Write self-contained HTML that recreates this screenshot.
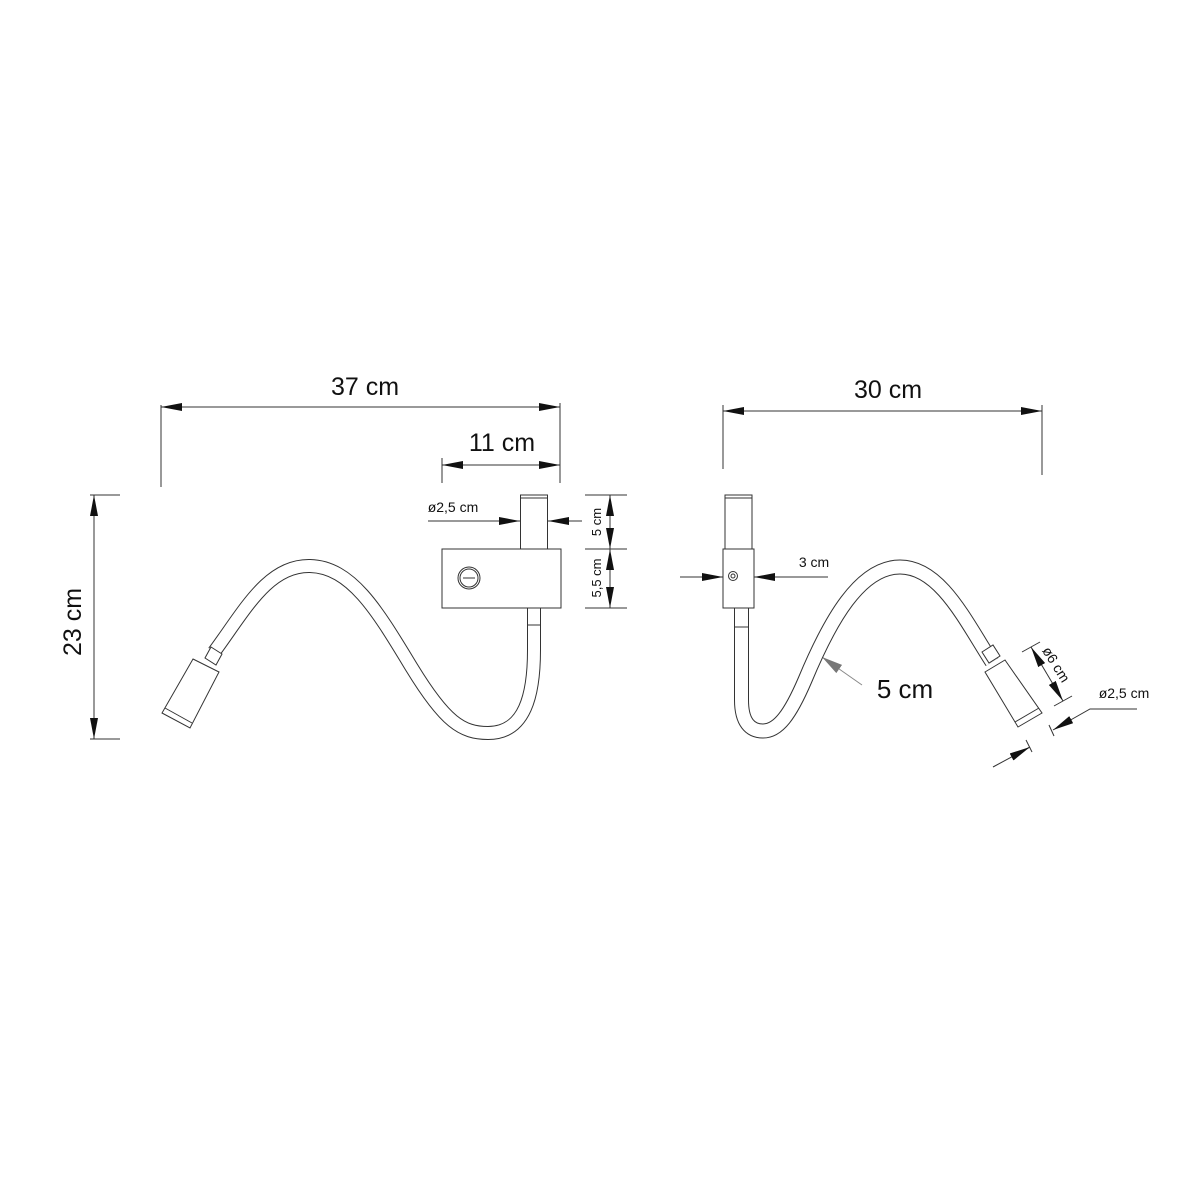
<!DOCTYPE html>
<html><head><meta charset="utf-8"><style>html,body{margin:0;padding:0;background:#fff}svg{display:block}text{font-family:"Liberation Sans",Arial,sans-serif;fill:#111}</style></head>
<body>
<svg width="1200" height="1200" viewBox="0 0 1200 1200" xmlns="http://www.w3.org/2000/svg">
<defs>
<marker id="a" markerWidth="22" markerHeight="8" refX="21" refY="4" orient="auto" markerUnits="userSpaceOnUse"><path d="M0,0 L21,4 L0,8 Z" fill="#111"/></marker>
<marker id="g" markerWidth="22" markerHeight="10" refX="21" refY="5" orient="auto" markerUnits="userSpaceOnUse"><path d="M0,0 L21,5 L0,10 Z" fill="#777"/></marker>
</defs>
<g stroke="#333" stroke-width="1" fill="none">
<!-- 37 cm -->
<line x1="161" y1="405" x2="161" y2="487"/><line x1="560" y1="403" x2="560" y2="483"/>
<line x1="200" y1="407" x2="161" y2="407" marker-end="url(#a)"/><line x1="520" y1="407" x2="560" y2="407" marker-end="url(#a)"/>
<line x1="200" y1="407" x2="520" y2="407"/>
<!-- 11 cm -->
<line x1="442" y1="458" x2="442" y2="483"/>
<line x1="500" y1="465" x2="442" y2="465" marker-end="url(#a)"/><line x1="500" y1="465" x2="560" y2="465" marker-end="url(#a)"/>
<!-- 23 cm -->
<line x1="90" y1="495" x2="120" y2="495"/><line x1="90" y1="739" x2="120" y2="739"/>
<line x1="94" y1="620" x2="94" y2="495" marker-end="url(#a)"/><line x1="94" y1="620" x2="94" y2="739" marker-end="url(#a)"/>
<!-- 5 / 5,5 cm -->
<line x1="585" y1="495" x2="627" y2="495"/><line x1="585" y1="549" x2="627" y2="549"/><line x1="585" y1="608" x2="627" y2="608"/>
<line x1="610" y1="522" x2="610" y2="495" marker-end="url(#a)"/><line x1="610" y1="522" x2="610" y2="549" marker-end="url(#a)"/>
<line x1="610" y1="578" x2="610" y2="549" marker-end="url(#a)"/><line x1="610" y1="578" x2="610" y2="608" marker-end="url(#a)"/>
<!-- ø2,5 left -->
<line x1="428" y1="521" x2="520" y2="521" marker-end="url(#a)"/><line x1="582" y1="521" x2="548" y2="521" marker-end="url(#a)"/>
<!-- 30 cm -->
<line x1="723" y1="405" x2="723" y2="469"/><line x1="1042" y1="405" x2="1042" y2="475"/>
<line x1="880" y1="411" x2="723" y2="411" marker-end="url(#a)"/><line x1="880" y1="411" x2="1042" y2="411" marker-end="url(#a)"/>
<!-- 3 cm -->
<line x1="680" y1="577" x2="723" y2="577" marker-end="url(#a)"/><line x1="828" y1="577" x2="754" y2="577" marker-end="url(#a)"/>
<!-- ø6 -->
<line x1="1022" y1="652" x2="1040" y2="642"/><line x1="1054" y1="706" x2="1072" y2="696"/>
<line x1="1047" y1="674" x2="1031" y2="647" marker-end="url(#a)"/><line x1="1047" y1="674" x2="1063" y2="701" marker-end="url(#a)"/>
<!-- ø2,5 right -->
<polyline points="1137,709 1090,709 1053,730" marker-end="url(#a)"/>
<line x1="1049" y1="725" x2="1054" y2="736"/>
<line x1="993" y1="767" x2="1030" y2="747" marker-end="url(#a)"/>
<line x1="1026" y1="740" x2="1032" y2="752"/>
</g>
<!-- 5 cm leader -->
<line x1="862" y1="685" x2="822" y2="657" stroke="#888" stroke-width="1" marker-end="url(#g)"/>

<!-- LEFT LAMP -->
<g stroke="#333" stroke-width="1" fill="#fff">
<path d="M214,652 C245,610 268,565 310,566 C352,567 378,612 412,668 C445,722 462,733 488,733 C525,733 534,695 534,650 L534,608" fill="none" stroke="#333" stroke-width="14"/>
<path d="M214,652 C245,610 268,565 310,566 C352,567 378,612 412,668 C445,722 462,733 488,733 C525,733 534,695 534,650 L534,608" fill="none" stroke="#fff" stroke-width="12"/>
<line x1="528" y1="625" x2="540" y2="625"/>
<polygon points="211,647 222,654 216,665 205,658"/>
<polygon points="193,659 219,672 190,728 162,713"/>
<line x1="165" y1="708" x2="192" y2="723"/>
<rect x="520.5" y="495" width="27" height="54"/>
<line x1="520.5" y1="498" x2="547.5" y2="498"/>
<rect x="442" y="549" width="119" height="59"/>
<circle cx="469" cy="578" r="11"/><circle cx="469" cy="578" r="9"/>
<line x1="463" y1="578" x2="475" y2="578"/>
</g>

<!-- RIGHT LAMP -->
<g stroke="#333" stroke-width="1" fill="#fff">
<path d="M741.5,608 L741.5,700 C741.5,722 750,731 763,731 C778,731 790,715 805,680 C830,620 860,567 900,567 C940,567 965,620 992,662" fill="none" stroke="#333" stroke-width="15"/>
<path d="M741.5,608 L741.5,700 C741.5,722 750,731 763,731 C778,731 790,715 805,680 C830,620 860,567 900,567 C940,567 965,620 992,662" fill="none" stroke="#fff" stroke-width="13"/>
<line x1="735" y1="627" x2="748" y2="627"/>
<polygon points="982,652 993,645 1000,656 989,663"/>
<polygon points="985,672 1005,660 1042,713 1018,727"/>
<line x1="1015" y1="722" x2="1039" y2="708"/>
<rect x="725" y="495" width="27" height="54"/>
<line x1="725" y1="498" x2="752" y2="498"/>
<rect x="723" y="549" width="31" height="59"/>
<circle cx="733" cy="576" r="4.5"/><circle cx="733" cy="576" r="2"/>
</g>

<!-- TEXT -->
<text x="365" y="395" font-size="25" text-anchor="middle">37 cm</text>
<text x="502" y="451" font-size="25" text-anchor="middle">11 cm</text>
<text x="888" y="398" font-size="25" text-anchor="middle">30 cm</text>
<text transform="translate(81,622) rotate(-90)" font-size="25" text-anchor="middle">23 cm</text>
<text x="453" y="512" font-size="14" text-anchor="middle">ø2,5 cm</text>
<text transform="translate(601,522) rotate(-90)" font-size="13" text-anchor="middle">5 cm</text>
<text transform="translate(601,578) rotate(-90)" font-size="13" text-anchor="middle">5,5 cm</text>
<text x="814" y="567" font-size="14" text-anchor="middle">3 cm</text>
<text x="905" y="698" font-size="26" text-anchor="middle">5 cm</text>
<text transform="translate(1052,667) rotate(58)" font-size="14" text-anchor="middle">ø6 cm</text>
<text x="1124" y="698" font-size="14" text-anchor="middle">ø2,5 cm</text>
</svg>
</body></html>
